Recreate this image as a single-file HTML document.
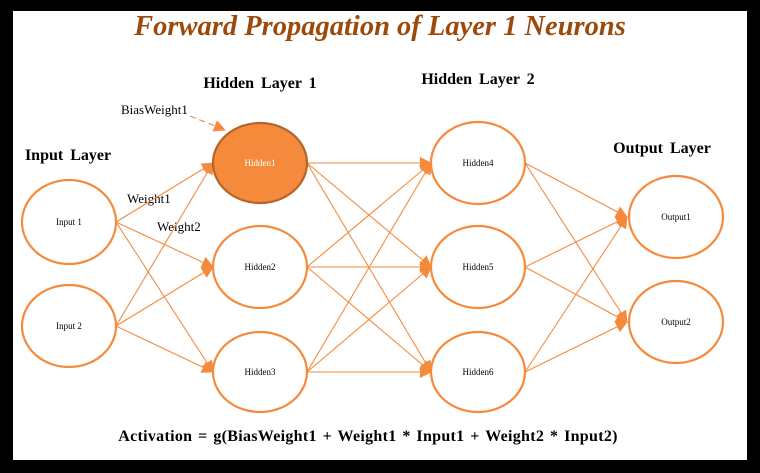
<!DOCTYPE html><html><head><style>body{margin:0;background:#000;}svg{display:block}</style></head><body>
<svg width="760" height="473" xmlns="http://www.w3.org/2000/svg" font-family="Liberation Serif, serif">
<defs><marker id="a" markerWidth="12" markerHeight="12" refX="11" refY="6" orient="auto" markerUnits="userSpaceOnUse"><path d="M0,0 L12,6 L0,12z" fill="#f58a3c"/></marker></defs>
<rect x="13" y="11" width="734" height="449" fill="#fff"/>
<text x="380" y="35" text-anchor="middle" font-size="28.5" font-weight="bold" font-style="italic" fill="#9c4a0c">Forward Propagation of Layer 1 Neurons</text>
<g font-weight="bold" font-size="16" fill="#000" word-spacing="3">
<text x="68" y="160" text-anchor="middle">Input Layer</text>
<text x="260" y="88" text-anchor="middle">Hidden Layer 1</text>
<text x="478" y="84" text-anchor="middle">Hidden Layer 2</text>
<text x="662" y="153" text-anchor="middle">Output Layer</text>
<text x="368" y="441" text-anchor="middle" font-size="16" word-spacing="1.5" letter-spacing="0.3">Activation = g(BiasWeight1 + Weight1 * Input1 + Weight2 * Input2)</text>
</g>
<g font-size="13"><text x="121" y="114">BiasWeight1</text><text x="127" y="203">Weight1</text><text x="157" y="231">Weight2</text></g>
<g stroke="#f58a3c" stroke-width="1.1" marker-end="url(#a)">
<line x1="190" y1="116" x2="225" y2="130" stroke-dasharray="6,4"/>
<line x1="116" y1="222" x2="213" y2="163"/><line x1="116" y1="222" x2="213" y2="267"/><line x1="116" y1="222" x2="213" y2="372"/>
<line x1="116" y1="326" x2="213" y2="163"/><line x1="116" y1="326" x2="213" y2="267"/><line x1="116" y1="326" x2="213" y2="372"/>
<line x1="307" y1="163" x2="431" y2="163"/><line x1="307" y1="163" x2="431" y2="267"/><line x1="307" y1="163" x2="431" y2="372"/>
<line x1="307" y1="267" x2="431" y2="163"/><line x1="307" y1="267" x2="431" y2="267"/><line x1="307" y1="267" x2="431" y2="372"/>
<line x1="307" y1="372" x2="431" y2="163"/><line x1="307" y1="372" x2="431" y2="267"/><line x1="307" y1="372" x2="431" y2="372"/>
<line x1="525" y1="163" x2="627" y2="217"/><line x1="525" y1="163" x2="627" y2="322"/>
<line x1="525" y1="267" x2="627" y2="217"/><line x1="525" y1="267" x2="627" y2="322"/>
<line x1="525" y1="372" x2="627" y2="217"/><line x1="525" y1="372" x2="627" y2="322"/>
</g>
<g fill="#fff" stroke="#f58a3c" stroke-width="2.2">
<ellipse cx="69" cy="222" rx="47" ry="42"/><ellipse cx="69" cy="326" rx="47" ry="41"/>
<ellipse cx="260" cy="163" rx="47" ry="40" fill="#f58a3c" stroke="#b5652a"/>
<ellipse cx="260" cy="267" rx="47" ry="41"/><ellipse cx="260" cy="372" rx="47" ry="40"/>
<ellipse cx="478" cy="163" rx="47" ry="41"/><ellipse cx="478" cy="267" rx="47" ry="41"/><ellipse cx="478" cy="372" rx="47" ry="40"/>
<ellipse cx="676" cy="217" rx="47" ry="41"/><ellipse cx="676" cy="322" rx="47" ry="41"/>
</g>
<g font-size="9" text-anchor="middle">
<text x="69" y="225">Input 1</text><text x="69" y="329">Input 2</text>
<text x="260" y="166" fill="#fff">Hidden1</text><text x="260" y="270">Hidden2</text><text x="260" y="375">Hidden3</text>
<text x="478" y="166">Hidden4</text><text x="478" y="270">Hidden5</text><text x="478" y="375">Hidden6</text>
<text x="676" y="220">Output1</text><text x="676" y="325">Output2</text>
</g>
</svg></body></html>
